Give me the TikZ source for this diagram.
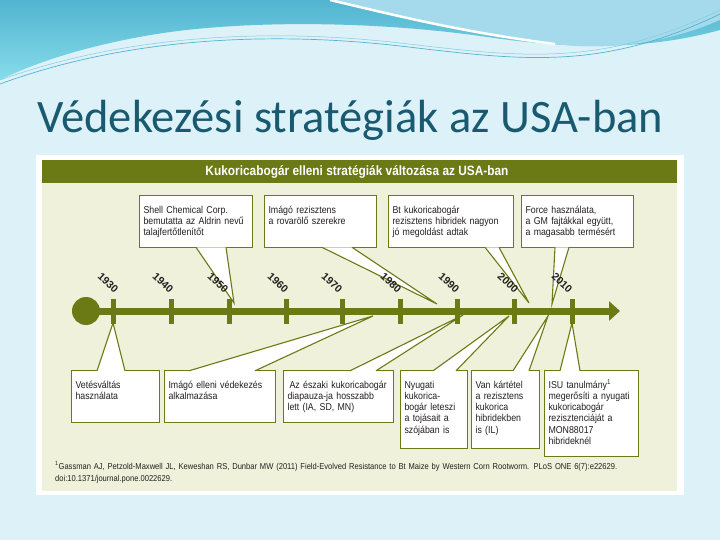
\documentclass[tikz,border=0pt]{standalone}
\usepackage{fontspec}
\setmainfont{Liberation Sans}
\newfontfamily\condfont[FakeStretch=0.88]{Liberation Sans}
\newfontfamily\slidefont{Carlito}
\usetikzlibrary{arrows.meta}

\definecolor{slidebg}{HTML}{DCF2F8}
\definecolor{wavedark}{HTML}{52B4D0}
\definecolor{wavelight}{HTML}{86DCEA}
\definecolor{waveblue}{HTML}{A4DAEB}
\definecolor{titleteal}{HTML}{1A5A70}
\definecolor{kolive}{HTML}{6B7A14}
\definecolor{kbeige}{HTML}{F0F1DA}
\definecolor{ktext}{HTML}{231F20}

\tikzset{
    note/.style={draw=kolive, line width=1.1pt, fill=white, anchor=north west,
        align=left, inner xsep=4pt, inner ysep=10pt, text height=7.5pt,
        text=ktext, font=\condfont\fontsize{10}{11.3}\selectfont,
        execute at begin node={\hyphenpenalty=10000 }},
    pin/.style={draw=kolive, line width=1.1pt, fill=white, line join=miter},
    year/.style={rotate=-43, text=ktext, font=\bfseries\fontsize{10.5}{11}\selectfont},
    tick/.style={draw=kolive, line width=5pt},
}

\begin{document}
\begin{tikzpicture}[x=1pt,y=-1pt]
    \useasboundingbox (0,0) rectangle (720,540);
    % slide background and waves
    \fill[slidebg] (0,0) rectangle (720,540);
    \shade[top color=wavedark, bottom color=wavelight]
        (0,0) -- (720,0) -- (720,30) .. controls (640,52) and (560,48) .. (480,36)
        .. controls (380,22) and (260,20) .. (170,32) .. controls (100,42) and (40,60) .. (0,80) -- cycle;
    \fill[waveblue] (330,0) -- (720,0) -- (720,20) .. controls (660,46) and (600,50) .. (555,44)
        .. controls (460,32) and (390,14) .. (330,0) -- cycle;
    \draw[white, line width=2.5pt] (330,0) .. controls (390,14) and (460,32) .. (555,44);
    \draw[wavedark, line width=.7pt] (0,84) .. controls (120,40) and (260,30) .. (400,46)
        .. controls (520,60) and (600,72) .. (720,14);
    \draw[wavedark!70, line width=.5pt] (0,80) .. controls (120,37) and (260,27) .. (400,43)
        .. controls (520,57) and (600,68) .. (720,10);
    \node[anchor=base west, inner sep=0, text=titleteal,
        font=\slidefont\fontsize{46.5}{52}\selectfont] (title) at (37,133)
        {Védekezési stratégiák az USA-ban};

    % figure panel
    \fill[white] (36,155) rectangle (684,495);
    \fill[kbeige] (42,160) rectangle (677,491);
    \fill[kolive] (42,160) rectangle (677,183);
    \node[text=white, font=\condfont\bfseries\fontsize{13.5}{15}\selectfont] (head) at (357,171.5)
        {Kukoricabogár elleni stratégiák változása az USA-ban};

    % upper notes
    \node[note, text width=105pt, text depth=24.5pt] (shell) at (139,195)
        {Shell Chemical Corp.\\bemutatta az Aldrin nevű\\talajfertőtlenítőt};
    \node[note, text width=104pt, text depth=24.5pt] (imagores) at (264,195)
        {Imágó rezisztens\\a rovarölő szerekre};
    \node[note, text width=117pt, text depth=24.5pt] (btcorn) at (388,195)
        {Bt kukoricabogár\\rezisztens hibridek nagyon\\jó megoldást adtak};
    \node[note, text width=104pt, text depth=24.5pt] (force) at (521,195)
        {Force használata,\\a GM fajtákkal együtt,\\a magasabb termésért};

    % lower notes
    \node[note, text width=80pt, text depth=24.5pt] (rotation) at (71,370)
        {Vetésváltás\\használata};
    \node[note, text width=103pt, text depth=24.5pt] (imagoctl) at (164,370)
        {Imágó elleni védekezés\\alkalmazása};
    \node[note, text width=102pt, text depth=24.5pt] (diapause) at (283,370)
        {\hspace{2pt}Az északi kukoricabogár\\diapauza-ja hosszabb\\lett (IA, SD, MN)};
    \node[note, text width=59pt, text depth=50.5pt] (soy) at (400,370)
        {Nyugati\\kukorica-\\bogár leteszi\\a tojásait a\\szójában is};
    \node[note, text width=60pt, text depth=50.5pt] (damage) at (471,370)
        {Van kártétel\\a rezisztens\\kukorica\\hibridekben\\is (IL)};
    \node[note, text width=86pt, text depth=58.5pt] (isu) at (544,370)
        {ISU tanulmány\textsuperscript{1}\\megerősíti a nyugati\\kukoricabogár\\rezisztenciáját a\\MON88017\\hibrideknél};

    % pointer tips on the time line
    \coordinate (p1950) at (234,303);
    \coordinate (p1985) at (437,304);
    \coordinate (p2003) at (529,303);
    \coordinate (p2008) at (552,304);
    \coordinate (p1930) at (113,323);
    \coordinate (p1975) at (373,316);
    \coordinate (p1991) at (463,315);
    \coordinate (p1999) at (509,316);
    \coordinate (p2006) at (548,316);
    \coordinate (p2010) at (572,323);

    \draw[pin] ([yshift=.8pt]shell.south -| 196,0) -- (p1950) -- ([yshift=.8pt]shell.south -| 226,0);
    \draw[pin] ([yshift=.8pt]imagores.south -| 322,0) -- (p1985) -- ([yshift=.8pt]imagores.south -| 352,0);
    \draw[pin] ([yshift=.8pt]btcorn.south -| 485,0) -- (p2003) -- ([yshift=.8pt]btcorn.south -| 499,0);
    \draw[pin] ([yshift=.8pt]force.south -| 555,0) -- (p2008) -- ([yshift=.8pt]force.south -| 569,0);
    \draw[pin] ([yshift=-.8pt]rotation.north -| 97,0) -- (p1930) -- ([yshift=-.8pt]rotation.north -| 125,0);
    \draw[pin] ([yshift=-.8pt]imagoctl.north -| 189,0) -- (p1975) -- ([yshift=-.8pt]imagoctl.north -| 255,0);
    \draw[pin] ([yshift=-.8pt]diapause.north -| 350,0) -- (p1991) -- ([yshift=-.8pt]diapause.north -| 376,0);
    \draw[pin] ([yshift=-.8pt]soy.north -| 433,0) -- (p1999) -- ([yshift=-.8pt]soy.north -| 456,0);
    \draw[pin] ([yshift=-.8pt]damage.north -| 513,0) -- (p2006) -- ([yshift=-.8pt]damage.north -| 529,0);
    \draw[pin] ([yshift=-.8pt]isu.north -| 560,0) -- (p2010) -- ([yshift=-.8pt]isu.north -| 580,0);

    % time line
    \node[circle, fill=kolive, minimum size=28pt, inner sep=0] (start) at (86,311) {};
    \coordinate (now) at (620,311);
    \draw[kolive, line width=7pt, -{Triangle[length=11pt,width=19pt]}] (start.center) -- (now);
    \draw[tick]
        (113,299) -- (113,324)  (171,299) -- (171,324)
        (229,299) -- (229,324)  (286,299) -- (286,324)
        (342,299) -- (342,324)  (400,299) -- (400,324)
        (457,299) -- (457,324)  (514,299) -- (514,324)
        (572,299) -- (572,324);
    \node[year] (y1930) at (108,283) {1930};
    \node[year] (y1940) at (163,283) {1940};
    \node[year] (y1950) at (218,283) {1950};
    \node[year] (y1960) at (278,283) {1960};
    \node[year] (y1970) at (332,283) {1970};
    \node[year] (y1980) at (391,283) {1980};
    \node[year] (y1990) at (449,283) {1990};
    \node[year] (y2000) at (508,283) {2000};
    \node[year] (y2010) at (562,283) {2010};

    % reference
    \node[anchor=north west, align=left, inner sep=0, text width=620pt, text height=7pt,
        text=ktext, font=\condfont\fontsize{8.6}{11.6}\selectfont] (ref) at (55,462.5)
        {\textsuperscript{1}Gassman AJ, Petzold-Maxwell JL, Keweshan RS, Dunbar MW (2011) Field-Evolved Resistance to Bt Maize by Western Corn Rootworm. PLoS ONE 6(7):e22629.\\doi:10.1371/journal.pone.0022629.};
\end{tikzpicture}
\end{document}
